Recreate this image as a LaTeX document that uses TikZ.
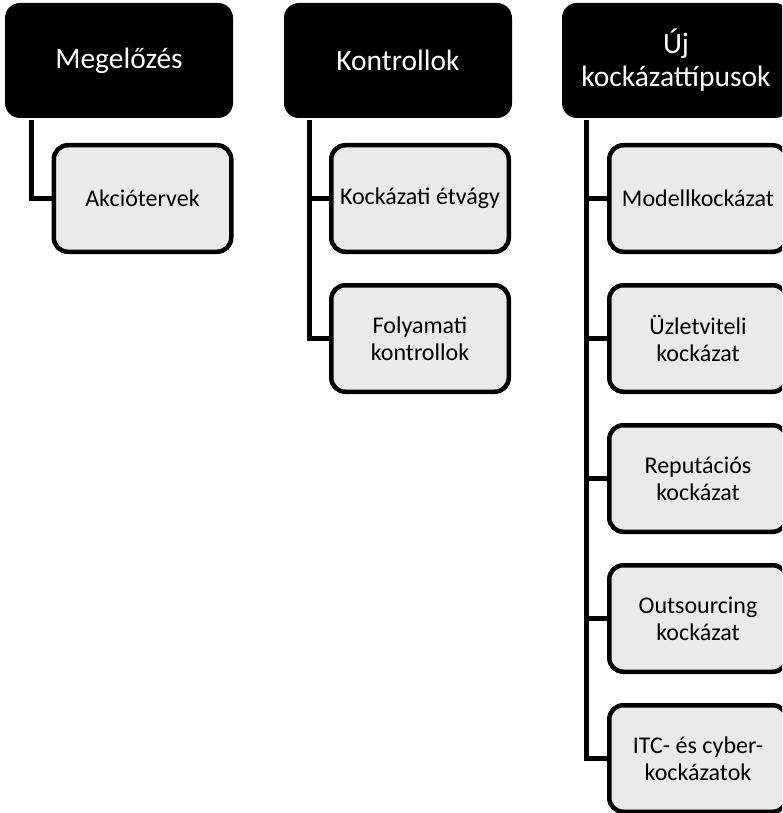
\documentclass[tikz,border=0pt]{standalone}
\usepackage{fontspec}
\setmainfont{Carlito}
\definecolor{childfill}{RGB}{234,234,234}
\tikzset{
  parentbox/.style={rectangle, rounded corners=15pt, fill=black, draw=none,
    text=white, minimum width=228pt, minimum height=115pt, inner sep=2pt,
    align=center, font=\fontsize{29.5}{33}\selectfont},
  childbox/.style={rectangle, rounded corners=14pt, fill=childfill, draw=black,
    line width=4.5pt, text=black, minimum width=177.5pt, minimum height=106.5pt,
    inner sep=1pt, align=center, font=\fontsize{24}{27}\selectfont},
  conn/.style={draw=black, line width=5pt}
}
\begin{document}
\begin{tikzpicture}[x=1pt,y=-1pt]
\clip (0,0) rectangle (782,813);
\fill[white] (0,0) rectangle (782,813);
% parents
\node[parentbox] (p1) at (119,60.5) {\raisebox{-2pt}{Megelőzés}};
\node[parentbox] (p2) at (398,60.5) {Kontrollok};
\node[parentbox] (p3) at (676,60.5) {Új\\kockázattípusok};
% trunk coordinates
\coordinate (t1) at ([xshift=27pt]p1.south west);
\coordinate (t2) at ([xshift=26pt]p2.south west);
\coordinate (t3) at ([xshift=25pt]p3.south west);
% children
\node[childbox] (c1a) at (142.5,198.5) {Akciótervek};
\node[childbox] (c2a) at (420,198.5) {Kockázati étvágy};
\node[childbox] (c2b) at (420,338.5) {Folyamati\\kontrollok};
\node[childbox] (c3a) at (698,198.5) {Modellkockázat};
\node[childbox] (c3b) at (698,338.5) {Üzletviteli\\kockázat};
\node[childbox] (c3c) at (698,478.5) {Reputációs\\kockázat};
\node[childbox] (c3d) at (698,618.5) {Outsourcing\\kockázat};
\node[childbox] (c3e) at (698,758.5) {ITC- és cyber-\\kockázatok};
% connectors
\draw[conn] ([yshift=-2pt]t1) |- (c1a.west);
\draw[conn] ([yshift=-2pt]t2) |- (c2b.west);
\draw[conn] (c2a.west -| t2) -- (c2a.west);
\draw[conn] ([yshift=-2pt]t3) |- (c3e.west);
\draw[conn] (c3a.west -| t3) -- (c3a.west);
\draw[conn] (c3b.west -| t3) -- (c3b.west);
\draw[conn] (c3c.west -| t3) -- (c3c.west);
\draw[conn] (c3d.west -| t3) -- (c3d.west);
\end{tikzpicture}
\end{document}
